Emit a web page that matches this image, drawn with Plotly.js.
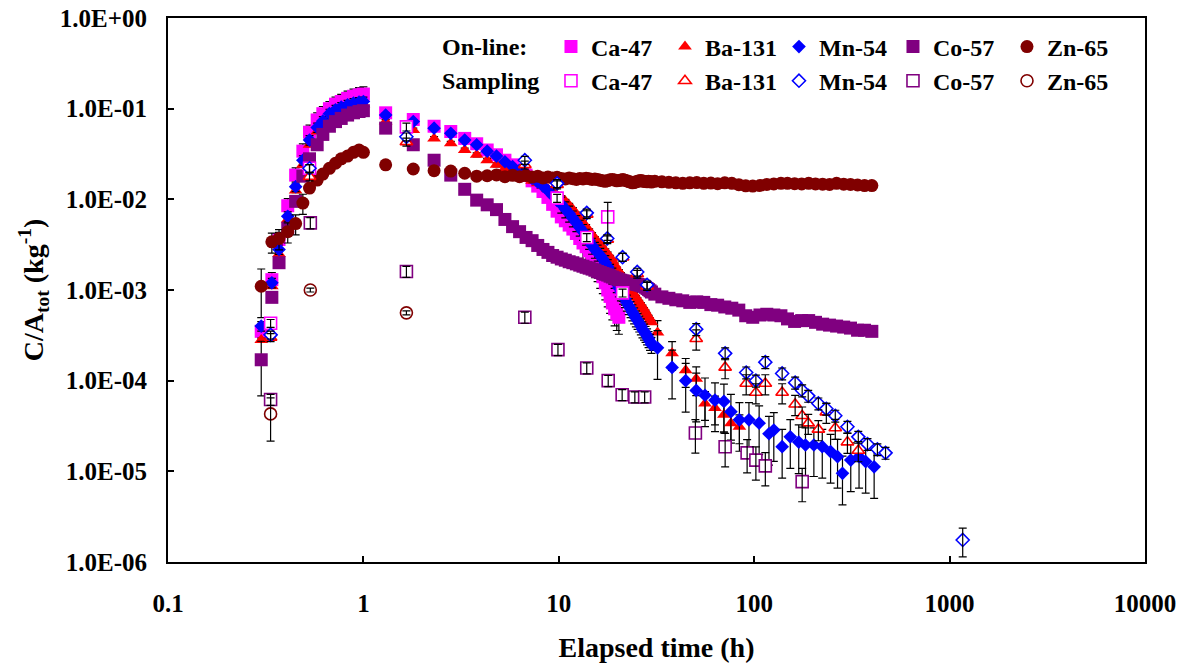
<!DOCTYPE html>
<html>
<head>
<meta charset="utf-8">
<script src="https://cdn.plot.ly/plotly-3.0.1.min.js"></script>
<style>html,body{margin:0;padding:0;background:#fff;}#chart{width:1189px;height:663px;}</style>
</head>
<body>
<div id="chart"></div>
<script>
// ---------- time bases (h) ----------
const tRise = [0.30, 0.34, 0.37, 0.41, 0.45, 0.49, 0.53, 0.58, 0.62, 0.67, 0.72, 0.77, 0.83, 0.89, 0.95, 1.0];
const tMid = [1.3, 1.8, 2.3, 2.8, 3.3, 3.8, 4.3, 4.8, 5.3, 5.8, 6.3, 6.8, 7.3, 7.8, 8.3, 8.8, 9.3, 9.8,
  10.3, 10.8, 11.3, 11.8, 12.3, 12.8, 13.3, 13.8, 14.3, 14.8, 15.3, 15.8, 16.3, 16.8, 17.3, 17.8, 18.3, 18.8, 19.3, 19.8,
  20.3, 20.8, 21.3, 21.8, 22.3, 22.8, 23.3, 23.8, 24.3, 24.8, 25.3, 25.8, 26.3, 26.8, 27.3, 27.8, 28.3, 28.8, 29.3, 29.8];
const tLate = [32, 38, 44.6, 50.5, 56, 63, 70, 76, 84, 94, 106, 119, 126, 139, 153, 169, 183, 202, 223, 246, 267, 283, 312, 344, 372, 411];
const tLong = [31, 33.7, 36.6, 39.7, 43.1, 46.8, 50.8, 55.2, 60, 65, 70.7, 76.8, 83.4, 90.5, 98.3, 107, 116, 126, 137, 148, 161, 175,
  190, 206, 224, 243, 264, 287, 311, 338, 367, 400];

// ---------- on-line values (C/Atot, kg-1) ----------
const caRise = [3.5e-4, 1.3e-3, 3.6e-3, 8.5e-3, 0.0185, 0.034, 0.055, 0.075, 0.088, 0.10, 0.112, 0.12, 0.13, 0.137, 0.142, 0.145];
const caMid = [0.09, 0.076, 0.064, 0.056, 0.047, 0.041, 0.035, 0.031, 0.027, 0.024, 0.021, 0.0185, 0.016, 0.014, 0.0122, 0.0105, 0.0088, 0.0074,
  0.0064, 0.0058, 0.0052, 0.0047, 0.0042, 0.0037, 0.0033, 0.0030, 0.0027, 0.0024, 0.0021, 0.0019, 0.0016, 0.0014, 0.0012, 0.0010,
  0.00085, 0.00072, 0.00062, 0.00055, 0.0005];

const baRise = [2.8e-4, 1.1e-3, 2.5e-3, 6.0e-3, 0.0125, 0.024, 0.04, 0.056, 0.068, 0.08, 0.09, 0.097, 0.103, 0.108, 0.11, 0.112];
const baMid = [0.072, 0.058, 0.047, 0.0415, 0.035, 0.031, 0.027, 0.024, 0.022, 0.020, 0.0185, 0.017, 0.016, 0.015, 0.014, 0.013, 0.012, 0.011,
  0.0105, 0.0095, 0.0086, 0.0077, 0.0069, 0.0062, 0.0055, 0.0050, 0.0045, 0.0041, 0.0037, 0.0034, 0.0031, 0.0029, 0.0027, 0.0025,
  0.0023, 0.0021, 0.0019, 0.0017, 0.0016, 0.00148, 0.00137, 0.00127, 0.00118, 0.0011, 0.00102, 0.00095, 0.00089, 0.00083,
  0.00078, 0.00073, 0.00069, 0.00065, 0.00061, 0.00057, 0.00053, 0.0005, 0.00047, 0.00044];
const baLate = [3.4e-4, 2.0e-4, 1.3e-4, 1.05e-4, 5.6e-5, 5.0e-5, 4.2e-5, 3.4e-5, 3.1e-5];

const mnRise = [4.0e-4, 1.2e-3, 2.8e-3, 6.5e-3, 0.0138, 0.027, 0.045, 0.062, 0.073, 0.088, 0.097, 0.104, 0.11, 0.115, 0.118, 0.12];
const mnMid = [0.085, 0.072, 0.061, 0.0535, 0.045, 0.040, 0.034, 0.030, 0.026, 0.023, 0.021, 0.019, 0.017, 0.0155, 0.014, 0.0125, 0.011, 0.0097,
  0.0088, 0.0078, 0.0070, 0.0062, 0.0055, 0.0049, 0.0044, 0.0039, 0.0035, 0.0031, 0.0028, 0.0026, 0.0024, 0.0022, 0.0020, 0.0018,
  0.0016, 0.00145, 0.0013, 0.00117, 0.00105, 0.00095, 0.00087, 0.0008, 0.00073, 0.00067, 0.00062, 0.00057, 0.00053, 0.00049,
  0.00046, 0.00043, 0.0004, 0.00037, 0.00035, 0.00033, 0.00031, 0.00029, 0.00027, 0.00025];
const mnLate = [2.3e-4, 1.4e-4, 1.0e-4, 7.8e-5, 6.9e-5, 6.1e-5, 5.9e-5, 4.55e-5, 3.7e-5, 3.7e-5, 3.4e-5, 2.6e-5, 2.86e-5, 1.87e-5, 2.4e-5, 2.1e-5,
  1.95e-5, 1.95e-5, 1.87e-5, 1.65e-5, 1.45e-5, 9.5e-6, 1.33e-5, 1.45e-5, 1.28e-5, 1.12e-5];

const coRise = [1.7e-4, 8.3e-4, 2.0e-3, 4.8e-3, 9.5e-3, 0.018, 0.028, 0.04, 0.052, 0.064, 0.072, 0.078, 0.085, 0.09, 0.093, 0.095];
const coMid = [0.061, 0.040, 0.027, 0.0185, 0.0129, 0.0098, 0.0087, 0.0077, 0.0060, 0.0050, 0.0044, 0.0038, 0.0035, 0.0031, 0.0028, 0.0026, 0.0024, 0.0023,
  0.0022, 0.00213, 0.00205, 0.0020, 0.00194, 0.00188, 0.00183, 0.00178, 0.00174, 0.0017, 0.00165, 0.0016, 0.00156, 0.00152, 0.00149, 0.00146,
  0.00142, 0.00139, 0.00136, 0.00133, 0.0013, 0.00128, 0.00126, 0.00125, 0.00124, 0.00122, 0.0012, 0.00119, 0.00118, 0.00116,
  0.00115, 0.00114, 0.00113, 0.00111, 0.0011, 0.00107, 0.00104, 0.00101, 0.00098, 0.00095];
const coLate = [9.0e-4, 8.4e-4, 8.1e-4, 7.8e-4, 7.6e-4, 7.3e-4, 7.4e-4, 7.3e-4, 6.9e-4, 6.8e-4, 6.5e-4, 6.3e-4, 6.0e-4, 5.2e-4, 5.0e-4, 5.3e-4,
  5.4e-4, 5.3e-4, 5.2e-4, 4.8e-4, 4.5e-4, 4.6e-4, 4.6e-4, 4.4e-4, 4.2e-4, 4.1e-4, 4.0e-4, 3.9e-4, 3.8e-4, 3.6e-4, 3.6e-4, 3.5e-4];

const znRise = [1.1e-3, 3.4e-3, 3.7e-3, 4.4e-3, 5.4e-3, 9.1e-3, 0.0133, 0.0163, 0.019, 0.022, 0.025, 0.028, 0.030, 0.033, 0.035, 0.033];
const znMid = [0.024, 0.0216, 0.0207, 0.0205, 0.0194, 0.018, 0.0182, 0.0186, 0.0178, 0.0184, 0.0178, 0.0183, 0.0176, 0.018, 0.0172, 0.0176, 0.0172, 0.0175,
  0.0170, 0.0168, 0.0172, 0.0169, 0.0166, 0.0170, 0.0168, 0.0171, 0.0169, 0.0166, 0.0168, 0.0165, 0.0162, 0.0160, 0.0158, 0.0161,
  0.0164, 0.0166, 0.0163, 0.0160, 0.0161, 0.0163, 0.0165, 0.0162, 0.0160, 0.0157, 0.0155, 0.0152, 0.0153, 0.0156, 0.0158, 0.0160,
  0.0161, 0.0159, 0.0158, 0.0157, 0.0156, 0.0158, 0.0157, 0.0155];
const znLate = [0.0158, 0.0156, 0.0154, 0.0152, 0.0150, 0.0152, 0.0153, 0.0150, 0.0151, 0.0149, 0.0152, 0.0150, 0.0145, 0.0141, 0.0140, 0.0142,
  0.0146, 0.0148, 0.0150, 0.0150, 0.0149, 0.0148, 0.0150, 0.0148, 0.0147, 0.0146, 0.0150, 0.0147, 0.0146, 0.0144, 0.0142, 0.0142];

// ---------- sampling values ----------
const caSampT = [0.335, 0.53, 1.66, 9.8, 13.9, 17.8, 21.2];
const caSampV = [4.3e-4, 0.022, 0.063, 0.0103, 3.8e-3, 6.4e-3, 9.3e-4];

const baSampT = [0.335, 0.53, 1.66, 6.7, 9.8, 13.9, 17.7, 21.2, 25.2, 28.3, 50.5, 71, 91, 102, 114, 139, 162, 176, 189, 213, 234, 260, 300, 341];
const baSampV = [3.0e-4, 0.0178, 0.043, 0.024, 0.0145, 6.8e-3, 3.6e-3, 2.3e-3, 1.5e-3, 1.1e-3, 2.9e-4, 1.4e-4, 9.3e-5, 7.4e-5, 9.3e-5, 7.4e-5,
  5.5e-5, 4.1e-5, 3.4e-5, 2.9e-5, 4.5e-5, 3.0e-5, 2.1e-5, 1.7e-5];

const mnSampT = [0.335, 0.53, 1.66, 6.7, 9.8, 13.9, 17.7, 21.2, 25.2, 28.3, 50.5, 71, 91, 102, 114, 139, 162, 176, 189, 213, 234, 260, 300, 341, 380, 427, 470, 1167];
const mnSampV = [3.2e-4, 0.022, 0.049, 0.027, 0.015, 7.1e-3, 3.7e-3, 2.3e-3, 1.58e-3, 1.14e-3, 3.7e-4, 2.0e-4, 1.23e-4, 1.0e-4, 1.6e-4, 1.2e-4,
  9.5e-5, 7.8e-5, 6.8e-5, 5.6e-5, 4.9e-5, 4.1e-5, 3.1e-5, 2.4e-5, 2.0e-5, 1.75e-5, 1.6e-5, 1.75e-6];

const coSampT = [0.335, 0.535, 1.66, 6.7, 9.9, 13.9, 17.9, 21.1, 24.5, 27.5, 50, 71, 92, 102, 114, 176];
const coSampV = [6.2e-5, 5.5e-3, 1.6e-3, 5.0e-4, 2.2e-4, 1.38e-4, 1.0e-4, 7.0e-5, 6.6e-5, 6.6e-5, 2.65e-5, 1.87e-5, 1.6e-5, 1.33e-5, 1.15e-5, 7.7e-6];

const znSampT = [0.335, 0.535, 1.66];
const znSampV = [4.3e-5, 1.0e-3, 5.6e-4];

// ---------- tick labels / legend labels ----------
const xTickVals = [0.1, 1, 10, 100, 1000, 10000];
const xTickText = ['0.1', '1', '10', '100', '1000', '10000'];
const yTickVals = [1e-6, 1e-5, 1e-4, 1e-3, 1e-2, 1e-1, 1];
const yTickText = ['1.0E-06', '1.0E-05', '1.0E-04', '1.0E-03', '1.0E-02', '1.0E-01', '1.0E+00'];
const rowLabels = ['On-line:', 'Sampling'];

// ---------- build ----------
const FONT = 'Liberation Serif, Times New Roman, serif';
function join(rise, mid, late, lateT) {
  return {
    x: tRise.slice(0, rise.length).concat(tMid.slice(0, mid.length), lateT.slice(0, late.length)),
    y: rise.concat(mid, late)
  };
}
function relErr(xs, ys, fn) { return ys.map((v, i) => v * fn(xs[i])); }

const colors = {ca: '#FF00FF', ba: '#FF0000', mn: '#0000FF', co: '#800080', zn: '#800000'};
const traces = [];

function online(name, key, d, symbol, size, errFn) {
  traces.push({
    type: 'scatter', mode: 'markers', name: name, x: d.x, y: d.y,
    legend: 'legend',
    marker: {symbol: symbol, size: size, color: colors[key], line: {width: 0}},
    error_y: {type: 'data', symmetric: true, array: relErr(d.x, d.y, errFn), color: '#000', thickness: 1.2, width: 4},
    hoverinfo: 'x+y'
  });
}
online('Ca-47', 'ca', join(caRise, caMid, [], tLate), 'square', 13, x => x < 1.1 ? 0.2 : (x > 13 ? 0.35 : 0.05));
online('Ba-131', 'ba', join(baRise, baMid, baLate, tLate), 'triangle-up', 12, x => x < 31 ? 0.05 : 0.35);
online('Mn-54', 'mn', join(mnRise, mnMid, mnLate, tLate), 'diamond', 10.5, x => x < 1.1 ? 0.12 : (x < 10 ? 0.05 : (x < 31 ? 0.2 : 0.55)));
online('Co-57', 'co', join(coRise, coMid, coLate, tLong), 'square', 13, x => x < 0.32 ? 0.6 : 0.03);
online('Zn-65', 'zn', join(znRise, znMid, znLate, tLong), 'circle', 13, x => x < 0.32 ? 0.55 : (x < 0.5 ? 0.25 : 0.02));

function sampling(name, key, xs, ys, symbol, size) {
  traces.push({
    type: 'scatter', mode: 'markers', name: name, x: xs, y: ys,
    legend: 'legend2',
    marker: {symbol: symbol, size: size, color: '#FFFFFF', line: {width: 1.6, color: colors[key]}},
    hoverinfo: 'x+y'
  });
}
function samplingErr(xs, ys, errFn) {
  traces.push({
    type: 'scatter', mode: 'markers', x: xs, y: ys, showlegend: false,
    marker: {size: 2, opacity: 0},
    error_y: {type: 'data', symmetric: true, array: relErr(xs, ys, errFn), color: '#000', thickness: 1.2, width: 4},
    hoverinfo: 'skip'
  });
}
const samp = [
  ['Ca-47', 'ca', caSampT, caSampV, 'square', 12, x => (x > 17 && x < 19) ? 0.45 : 0.1],
  ['Ba-131', 'ba', baSampT, baSampV, 'triangle-up', 11, x => x > 40 ? 0.25 : 0.1],
  ['Mn-54', 'mn', mnSampT, mnSampV, 'diamond', 10, x => x > 1000 ? 0.35 : (x > 40 ? 0.15 : 0.1)],
  ['Co-57', 'co', coSampT, coSampV, 'square', 12, x => x > 40 ? 0.4 : 0.14],
  ['Zn-65', 'zn', znSampT, znSampV, 'circle', 12, x => x < 0.4 ? 0.5 : 0.05]
];
samp.forEach(s => sampling(s[0], s[1], s[2], s[3], s[4], s[5]));
samp.forEach(s => samplingErr(s[2], s[3], s[6]));

const axisCommon = {
  type: 'log', showline: true, linecolor: '#000', linewidth: 2, mirror: true,
  ticks: 'inside', ticklen: 6, tickwidth: 2, tickcolor: '#000',
  showgrid: false, zeroline: false,
  tickfont: {family: FONT, size: 25, color: '#000', weight: 'bold'}
};
const legFont = {family: FONT, size: 24, color: '#000', weight: 'bold'};
const legCommon = {
  orientation: 'h', xanchor: 'left', yanchor: 'middle', x: 0.392,
  font: legFont, entrywidth: 69, entrywidthmode: 'pixels', itemwidth: 30,
  bgcolor: 'rgba(0,0,0,0)', borderwidth: 0, itemclick: false, itemdoubleclick: false
};
const layout = {
  width: 1189, height: 663,
  margin: {l: 168, r: 44, t: 18, b: 101},
  paper_bgcolor: '#fff', plot_bgcolor: '#fff',
  font: {family: FONT, color: '#000'},
  xaxis: Object.assign({}, axisCommon, {
    range: [-1, 4], tickmode: 'array', tickvals: xTickVals, ticktext: xTickText,
    ticklabelstandoff: 18,
    title: {text: 'Elapsed time (h)', font: {family: FONT, size: 28, color: '#000', weight: 'bold'}, standoff: 21}
  }),
  yaxis: Object.assign({}, axisCommon, {
    range: [-6, 0], tickmode: 'array', tickvals: yTickVals, ticktext: yTickText,
    ticklabelstandoff: 14,
    title: {text: 'C/A<sub>tot</sub> (kg<sup>-1</sup>)', font: {family: FONT, size: 28, color: '#000', weight: 'bold'}, standoff: 8}
  }),
  showlegend: true,
  legend: Object.assign({}, legCommon, {y: 0.9467}),
  legend2: Object.assign({}, legCommon, {y: 0.884}),
  annotations: rowLabels.map((t, i) => ({
    text: t, xref: 'paper', yref: 'paper', x: 0.2784, y: i === 0 ? 0.9467 : 0.884,
    xanchor: 'left', yanchor: 'middle', showarrow: false, font: legFont
  }))
};
Plotly.newPlot('chart', traces, layout, {displayModeBar: false, staticPlot: true});
</script>
</body>
</html>
